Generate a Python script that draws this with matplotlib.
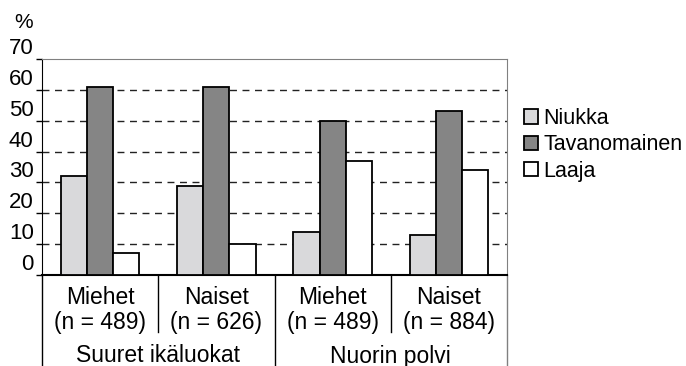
import matplotlib
matplotlib.use("Agg")
import matplotlib.pyplot as plt
import numpy as np
from matplotlib.transforms import blended_transform_factory

plt.rcParams['font.family'] = ['Liberation Sans', 'DejaVu Sans']

# data
groups = ["Miehet\n(n = 489)", "Naiset\n(n = 626)", "Miehet\n(n = 489)", "Naiset\n(n = 884)"]
supergroups = ["Suuret ikäluokat", "Nuorin polvi"]
series = ["Niukka", "Tavanomainen", "Laaja"]
niukka = [32, 29, 14, 13]
tavanomainen = [61, 61, 50, 53]
laaja = [7, 10, 37, 34]
yticks = [0, 10, 20, 30, 40, 50, 60, 70]

colors = ["#d9d9db", "#858585", "#ffffff"]

W, H = 686, 366
fig = plt.figure(figsize=(W / 100, H / 100), dpi=100)
ax = fig.add_axes([42 / W, 1 - 275 / H, 465 / W, 216 / H])

x = np.arange(len(groups))
bw = 0.225
for i, (vals, col, name) in enumerate(zip([niukka, tavanomainen, laaja], colors, series)):
    ax.bar(x + (i - 1) * bw, vals, bw, color=col, edgecolor="black",
           linewidth=1.3, label=name, zorder=3)

ax.set_xlim(-0.5, len(groups) - 0.5)
ax.set_ylim(0, 70)
ax.set_yticks(yticks)
ax.set_yticklabels([str(t) for t in yticks], fontsize=16)
for lbl in ax.get_yticklabels():
    lbl.set_va("bottom")
ax.tick_params(axis="y", direction="out", length=4, width=1, pad=2, color="black")
ax.set_xticks([])

for y in yticks[1:-1]:
    ax.axhline(y, color="#222222", lw=1, dashes=(5, 4), zorder=1)

ax.spines["top"].set_color("#808080")
ax.spines["right"].set_color("#808080")
ax.spines["left"].set_color("black")
ax.spines["bottom"].set_color("black")
ax.spines["bottom"].set_linewidth(1.5)

fig.text(24 / W, 1 - 23 / H, "%", fontsize=15, ha="center", va="center")

# category labels below axis
tr = blended_transform_factory(ax.transData, fig.transFigure)
for xi, g in zip(x, groups):
    top, bot = g.split("\n")
    fig.text(xi, 1 - 298 / H, top, transform=tr, ha="center", va="center", fontsize=16.5)
    fig.text(xi, 1 - 322 / H, bot, transform=tr, ha="center", va="center", fontsize=16.5)
for k, sg in enumerate(supergroups):
    fig.text(2 * k + 0.5, 1 - 356 / H, sg, transform=tr, ha="center", va="center", fontsize=16.5)

# separator lines
sep_x = [-0.5, 0.5, 1.5, 2.5, 3.5]
sep_end = [366, 332, 366, 332, 366]
for sx, se in zip(sep_x, sep_end):
    col = "#808080" if sx == 3.5 else "black"
    ax.plot([sx, sx], [1 - 275 / H, 1 - se / H], transform=tr,
            color=col, lw=1, clip_on=False)

leg = fig.legend(loc="upper left", bbox_to_anchor=(524 / W, 1 - 108 / H),
                 frameon=False, fontsize=15.5, handlelength=0.65, handleheight=0.65,
                 handletextpad=0.25, labelspacing=0.25, borderpad=0, borderaxespad=0)

fig.savefig("out.png", dpi=100)
